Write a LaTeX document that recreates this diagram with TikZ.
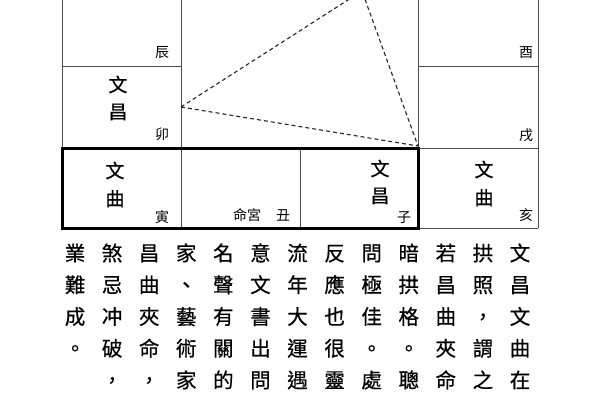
\documentclass[tikz,border=0pt]{standalone}
\usepackage{fontspec}
\newfontfamily\cjk{Noto Sans CJK TC}
\newfontfamily\cjkb{Noto Sans CJK TC}[FakeBold=0.5]
\begin{document}
\begin{tikzpicture}[x=1pt,y=-1pt,
  thin line/.style={draw=black!70,line width=1pt},
  thick line/.style={draw=black,line width=3pt},
  dash line/.style={draw=black!85,line width=1.1pt,dash pattern=on 4pt off 3pt},
  star/.style={font=\cjkb\fontsize{19}{19}\selectfont,inner sep=0pt,text height=0.88em,text depth=0.12em},
  branch/.style={font=\cjk\fontsize{14}{14}\selectfont,inner sep=0pt,text height=0.88em,text depth=0.12em},
  body/.style={font=\cjkb\fontsize{20.5}{20.5}\selectfont,inner sep=0pt,text height=0.88em,text depth=0.12em}]
\useasboundingbox (0,0) rectangle (600,400);
\fill[white] (0,0) rectangle (600,400);
\clip (0,0) rectangle (600,400);
% grid
\draw[thin line] (62,-20) -- (62,148);
\draw[thin line] (181,-20) -- (181,228);
\draw[thin line] (418,-20) -- (418,148);
\draw[thin line] (538,-20) -- (538,228);
\draw[thin line] (300,148) -- (300,228);
\draw[thin line] (62,66.5) -- (181,66.5);
\draw[thin line] (418,66.5) -- (538,66.5);
\draw[thin line] (418,148) -- (538,148);
\draw[thin line] (418,228) -- (538,228);
\draw[thick line] (62,148) rectangle (418,228);
% dashed triangle
\coordinate (A) at (181,107);
\coordinate (B) at (362,-9);
\coordinate (C) at (418,146);
\draw[dash line] (A) -- (B) -- (C) -- cycle;
% branch labels
\node[branch] (chen) at (162,54) {辰};
\node[branch] (mao) at (162,136) {卯};
\node[branch] (yin) at (162,219) {寅};
\node[branch] (chou) at (283,217) {丑};
\node[branch] (minggong) at (247,217) {命宮};
\node[branch] (zi) at (404,219) {子};
\node[branch] (you) at (526,54) {酉};
\node[branch] (xu) at (526,137) {戌};
\node[branch] (hai) at (526,217) {亥};
% stars
\node[star] (mao1) at (118,88) {文};
\node[star] (mao2) at (118,115) {昌};
\node[star] (yin1) at (115,174) {文};
\node[star] (yin2) at (115,202) {曲};
\node[star] (zi1) at (380,172) {文};
\node[star] (zi2) at (380,199) {昌};
\node[star] (hai1) at (484,173) {文};
\node[star] (hai2) at (484,201) {曲};
% body text (vertical, right to left)
\foreach \col [count=\i] in {
  {文,昌,文,曲,在},
  {拱,照,，,謂,之},
  {若,昌,曲,夾,命},
  {暗,拱,格,。,聰},
  {問,極,佳,。,處},
  {反,應,也,很,靈},
  {流,年,大,運,遇},
  {意,文,書,出,問},
  {名,聲,有,關,的},
  {家,、,藝,術,家},
  {昌,曲,夾,命,，},
  {煞,忌,冲,破,，},
  {業,難,成,。}}{
  \foreach \c [count=\j] in \col {
    \node[body] (t\i-\j) at ({520-37.08*(\i-1)},{257+31.75*(\j-1)}) {\c};
  }
}
\end{tikzpicture}
\end{document}
